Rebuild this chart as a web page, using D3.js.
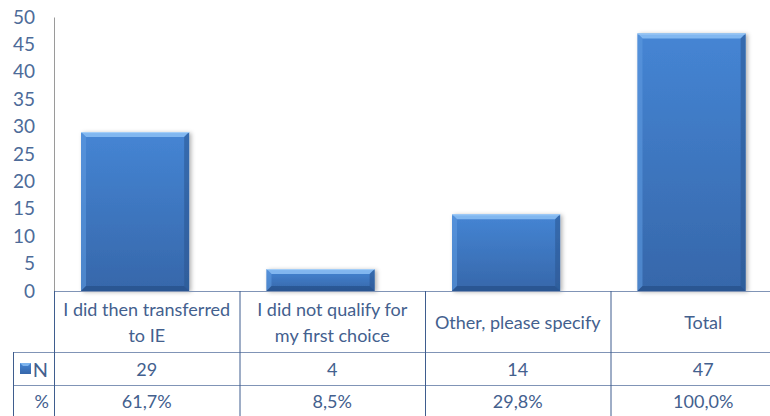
<!DOCTYPE html>
<html>
<head>
<meta charset="utf-8">
<script src="https://cdn.jsdelivr.net/npm/d3@7"></script>
<style>
  html, body { margin: 0; padding: 0; background: #fff; }
  svg { display: block; }
  text { font-family: Lato, "Open Sans", sans-serif; }
</style>
</head>
<body>
<svg id="chart" width="770" height="416"></svg>
<script>
// Reasons given, with line breaks used in the data table header
const categories = ["I did then transferred to IE", "I did not qualify for my first choice", "Other, please specify", "Total"];
const categoryLines = [["I did then transferred", "to IE"], ["I did not qualify for", "my first choice"], ["Other, please specify"], ["Total"]];
const counts = [29, 4, 14, 47];
const percents = ["61,7%", "8,5%", "29,8%", "100,0%"];
const yTicks = [0, 5, 10, 15, 20, 25, 30, 35, 40, 45, 50];
const rowLabels = ["N", "%"];

const svg = d3.select("#chart");
const textColor = "#43608e";
const hLine = "#8094b6";
const vLine = "#3f5d8e";

const plotLeft = 54, plotTop = 17, zeroY = 291;
const x = d3.scaleBand().domain(categories).range([plotLeft, 796]).padding(0);
const y = d3.scaleLinear().domain([0, 50]).range([zeroY, plotTop]);
const bw = x.bandwidth();

const defs = svg.append("defs");
const g1 = defs.append("linearGradient").attr("id", "barFill").attr("x1", 0).attr("y1", 0).attr("x2", 0).attr("y2", 1);
g1.append("stop").attr("offset", "0%").attr("stop-color", "#4585d4");
g1.append("stop").attr("offset", "100%").attr("stop-color", "#3667aa");
const sh = defs.append("filter").attr("id", "shadow").attr("x", "-20%").attr("y", "-20%").attr("width", "140%").attr("height", "140%");
sh.append("feDropShadow").attr("dx", 2).attr("dy", 1).attr("stdDeviation", 2).attr("flood-color", "#000").attr("flood-opacity", 0.3);

// Y axis labels and line
const yAxis = d3.axisLeft(y).tickValues(yTicks).tickSize(0).tickPadding(19);
const ya = svg.append("g").attr("transform", `translate(${plotLeft},0)`).call(yAxis);
ya.select(".domain").attr("stroke", "#9a9a9a").attr("stroke-width", 1);
ya.selectAll(".tick text").attr("fill", "#4d6b99").attr("font-size", 19)
  .attr("font-family", "Lato, sans-serif");

// Bars with bevelled edges
const barW = bw * 0.583, barOff = 27;
const bars = svg.append("g").selectAll("g").data(categories).join("g")
  .attr("filter", "url(#shadow)");
bars.each(function (c, i) {
  const gEl = d3.select(this);
  const x0 = x(c) + barOff, x1 = x0 + barW;
  const y0 = y(counts[i]), y1 = y(0);
  const b = Math.min(5, (y1 - y0) / 2);
  gEl.append("rect").attr("x", x0).attr("y", y0).attr("width", barW).attr("height", y1 - y0).attr("fill", "url(#barFill)");
  const poly = (pts, fill, op) => gEl.append("polygon").attr("points", pts.map(p => p.join(",")).join(" ")).attr("fill", fill).attr("fill-opacity", op);
  poly([[x0, y0], [x1, y0], [x1 - b, y0 + b], [x0 + b, y0 + b]], "#8cc0f5", 0.85);
  poly([[x0, y0], [x0 + b, y0 + b], [x0 + b, y1 - b], [x0, y1]], "#5e9ae0", 0.6);
  poly([[x1, y0], [x1, y1], [x1 - b, y1 - b], [x1 - b, y0 + b]], "#2a5590", 0.55);
  poly([[x0, y1], [x0 + b, y1 - b], [x1 - b, y1 - b], [x1, y1]], "#244b82", 0.6);
  gEl.append("line").attr("x1", x0).attr("x2", x1).attr("y1", y0 + 0.5).attr("y2", y0 + 0.5).attr("stroke", "#a7d0f8").attr("stroke-width", 1);
});

// Data table
const tbl = svg.append("g");
const rowTop = [291, 352, 385, 418];
const legendLeft = 13;
tbl.append("line").attr("x1", plotLeft).attr("x2", 796).attr("y1", rowTop[0] + 0.5).attr("y2", rowTop[0] + 0.5).attr("stroke", hLine);
[rowTop[1], rowTop[2]].forEach(yy => {
  tbl.append("line").attr("x1", legendLeft).attr("x2", 796).attr("y1", yy + 0.5).attr("y2", yy + 0.5).attr("stroke", hLine);
});
categories.forEach(c => {
  tbl.append("line").attr("x1", x(c) + 0.5).attr("x2", x(c) + 0.5).attr("y1", rowTop[0]).attr("y2", 416).attr("stroke", vLine);
});
tbl.append("line").attr("x1", legendLeft + 0.5).attr("x2", legendLeft + 0.5).attr("y1", rowTop[1]).attr("y2", 416).attr("stroke", vLine);

const fs = 18;
categories.forEach((c, i) => {
  const cx = x(c) + bw / 2;
  const lines = categoryLines[i];
  const mid = (rowTop[0] + rowTop[1]) / 2 + 1;
  lines.forEach((ln, j) => {
    const cy = mid + (j - (lines.length - 1) / 2) * 26;
    tbl.append("text").attr("x", cx).attr("y", cy).attr("dy", "0.35em").attr("text-anchor", "middle")
      .attr("fill", textColor).attr("font-size", fs).text(ln);
  });
  tbl.append("text").attr("x", cx).attr("y", (rowTop[1] + rowTop[2]) / 2 + 1).attr("dy", "0.35em").attr("text-anchor", "middle")
    .attr("fill", textColor).attr("font-size", fs).text(counts[i]);
  tbl.append("text").attr("x", cx).attr("y", (rowTop[2] + rowTop[3]) / 2 + 0).attr("dy", "0.35em").attr("text-anchor", "middle")
    .attr("fill", textColor).attr("font-size", fs).text(percents[i]);
});

// Row headers with legend key
const key = tbl.append("g");
key.append("rect").attr("x", 20).attr("y", 363).attr("width", 11).attr("height", 11).attr("fill", "url(#barFill)");
key.append("polygon").attr("points", "20,363 31,363 28,366 23,366").attr("fill", "#8cc0f5").attr("fill-opacity", 0.8);
tbl.append("text").attr("x", 48).attr("y", (rowTop[1] + rowTop[2]) / 2 + 1).attr("dy", "0.35em").attr("text-anchor", "end")
  .attr("fill", textColor).attr("font-size", 20).text(rowLabels[0]);
tbl.append("text").attr("x", 49).attr("y", (rowTop[2] + rowTop[3]) / 2).attr("dy", "0.35em").attr("text-anchor", "end")
  .attr("fill", textColor).attr("font-size", fs).text(rowLabels[1]);
</script>
</body>
</html>
